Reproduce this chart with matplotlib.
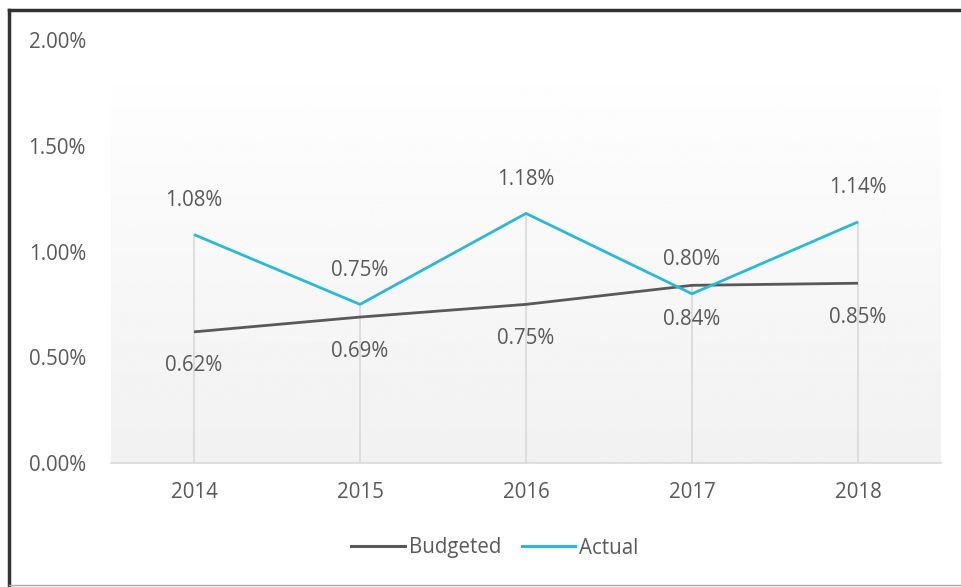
import matplotlib
matplotlib.use("Agg")
import matplotlib.pyplot as plt
import numpy as np
from matplotlib.lines import Line2D

years = ["2014", "2015", "2016", "2017", "2018"]
budgeted = [0.62, 0.69, 0.75, 0.84, 0.85]
actual = [1.08, 0.75, 1.18, 0.80, 1.14]
yticks = [0.0, 0.5, 1.0, 1.5, 2.0]

plt.rcParams['font.family'] = ['Open Sans', 'DejaVu Sans']
txt = '#595959'
FS = 14.8

fig = plt.figure(figsize=(9.61, 5.87), dpi=100)
W, H = 961, 587
ax = fig.add_axes([111/W, 1-463/H, (941-111)/W, (463-40)/H])

x = np.arange(len(years))
ax.set_xlim(-0.5, 4.5)
ax.set_ylim(0, 2.0)

# gradient plot-area background
grad = np.linspace(0.945, 0.995, 256).reshape(-1, 1)
ax.imshow(grad, extent=(-0.5, 4.5, 0, 1.78), origin='lower', aspect='auto',
          cmap='gray', vmin=0, vmax=1, zorder=0)

# drop lines
for xi, b, a in zip(x, budgeted, actual):
    ax.plot([xi, xi], [0, max(a, b)], color='#d9d9d9', lw=1.2, zorder=1)

ax.plot(x, budgeted, color='#595959', lw=2.0, zorder=3, solid_capstyle='butt')
ax.plot(x, actual, color='#29bad6', lw=2.0, zorder=4, solid_capstyle='butt')

for xi, v in zip(x, budgeted):
    ax.annotate(f"{v:.2f}%", (xi, v), xytext=(0, -24.5), textcoords='offset points',
                ha='center', va='center', fontsize=FS, color=txt, zorder=5)
for xi, v in zip(x, actual):
    ax.annotate(f"{v:.2f}%", (xi, v), xytext=(0, 24.5), textcoords='offset points',
                ha='center', va='center', fontsize=FS, color=txt, zorder=5)

for s in ['top', 'right', 'left']:
    ax.spines[s].set_visible(False)
ax.spines['bottom'].set_color('#d9d9d9')
ax.spines['bottom'].set_linewidth(1.2)

ax.set_xticks(x)
ax.set_xticklabels(years)
ax.set_yticks(yticks)
ax.set_yticklabels([f"{v:.2f}%" for v in yticks])
ax.tick_params(axis='both', length=0, labelsize=FS, colors=txt)
ax.tick_params(axis='x', pad=14)
ax.tick_params(axis='y', pad=18)
ax.set_facecolor('white')

handles = [Line2D([0], [0], color='#595959', lw=2.2),
           Line2D([0], [0], color='#29bad6', lw=2.2)]
leg = fig.legend(handles, ['Budgeted', 'Actual'], loc='center',
                 bbox_to_anchor=(495/W, 1-548/H), ncol=2, frameon=False,
                 fontsize=FS, handlelength=2.6, handletextpad=0.2,
                 columnspacing=1.0)
for t in leg.get_texts():
    t.set_color(txt)

# figure border
fig.add_artist(Line2D([9/W, 1], [1-10/H, 1-10/H], color='#333333', lw=2.5))
fig.add_artist(Line2D([9/W, 9/W], [1-10/H, 1-585/H], color='#333333', lw=2.5))
fig.add_artist(Line2D([9/W, 1], [1-585/H, 1-585/H], color='#aaaaaa', lw=1))

fig.savefig('out.png', dpi=100)
